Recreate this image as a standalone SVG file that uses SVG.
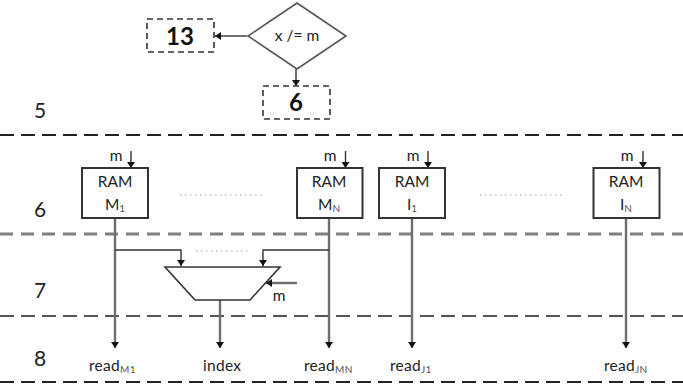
<svg xmlns="http://www.w3.org/2000/svg" width="683" height="387" viewBox="0 0 683 387">
<style>
text{font-family:"Lato","Open Sans","Liberation Sans",sans-serif;fill:#222}
.t{font-size:15.500px;text-anchor:middle}
.s{font-size:15.500px;letter-spacing:.3px}
.num{font-size:24px;font-weight:700;text-anchor:middle;fill:#111}
.lvl{font-size:21px;fill:#222}
.sep{stroke:#222;stroke-width:2;stroke-dasharray:14 7;fill:none}
.sepg{stroke:#7f7f7f;stroke-width:3;stroke-dasharray:13 8;fill:none}
.sep2{stroke:#555;stroke-width:2;stroke-dasharray:14 7;fill:none}
.box{fill:#fff;stroke:#333;stroke-width:2}
.dbox{fill:#fff;stroke:#333;stroke-width:1.6;stroke-dasharray:6 4}
.shape{fill:#fff;stroke:#555;stroke-width:1.6}
.w{stroke:#6e6e6e;stroke-width:2.4;fill:none}
.k{stroke:#333;stroke-width:1.4;fill:none}
.dots{stroke:#999;stroke-width:1;stroke-dasharray:1.5 3.5;fill:none}
.sub{font-size:10px;fill:#555}
</style>
<defs>
<marker id="a" markerUnits="userSpaceOnUse" markerWidth="8" markerHeight="8" refX="6" refY="4" orient="auto"><path d="M0 0L6 4L0 8z" fill="#111"/></marker>
</defs>
<g id="separators">
<line class="sep" x1="0" y1="135" x2="683" y2="135"/>
<line class="sepg" x1="0" y1="234" x2="683" y2="234"/>
<line class="sep2" x1="0" y1="316" x2="683" y2="316"/>
<line class="sep" x1="0" y1="382" x2="683" y2="382"/>
</g>
<g id="levels">
<text class="lvl" x="34" y="118">5</text>
<text class="lvl" x="34" y="217">6</text>
<text class="lvl" x="34" y="298">7</text>
<text class="lvl" x="34" y="366">8</text>
</g>
<g id="connectors">
<path class="k" d="M247 36H215" marker-end="url(#a)"/>
<path class="k" d="M296 69V86" marker-end="url(#a)"/>
<path class="k" d="M131 151V168" marker-end="url(#a)"/>
<path class="k" d="M345.500 151V168" marker-end="url(#a)"/>
<path class="k" d="M428 151V168" marker-end="url(#a)"/>
<path class="k" d="M643 151V168" marker-end="url(#a)"/>
<path class="w" d="M115 218V348" marker-end="url(#a)"/>
<path class="w" d="M329 218V348" marker-end="url(#a)"/>
<path class="w" d="M412 218V348" marker-end="url(#a)"/>
<path class="w" d="M626 218V348" marker-end="url(#a)"/>
<path class="k" d="M115 250H181V266" stroke-width="2" marker-end="url(#a)"/>
<path class="k" d="M329 250H263V266" stroke-width="2" marker-end="url(#a)"/>
<path class="w" d="M220 300V348" marker-end="url(#a)"/>
<path class="w" d="M297 283H266" marker-end="url(#a)"/>
</g>
<g id="dots">
<line class="dots" x1="180" y1="195" x2="262" y2="195"/>
<line class="dots" x1="480" y1="195" x2="564" y2="195"/>
<line class="dots" x1="196" y1="251" x2="248" y2="251"/>
</g>
<g id="box13"><rect class="dbox" x="147" y="19" width="67" height="33"/><text class="num" x="180" y="45">13</text></g>
<g id="decision"><polygon class="shape" points="297,3 346,36 297,69 248,36"/><text class="t" x="297" y="41">x /= m</text></g>
<g id="box6"><rect class="dbox" x="263" y="86" width="67" height="33"/><text class="num" x="296" y="111">6</text></g>
<g id="ramM1"><rect class="box" x="82" y="168" width="66" height="50"/><text class="t" x="115" y="187">RAM</text><text class="t" x="115" y="210">M<tspan class="sub" dy="2">1</tspan></text><text class="t" x="116" y="161">m</text></g>
<g id="ramMN"><rect class="box" x="297" y="168" width="65.500" height="50"/><text class="t" x="329" y="187">RAM</text><text class="t" x="329" y="210">M<tspan class="sub" dy="2">N</tspan></text><text class="t" x="330" y="161">m</text></g>
<g id="ramI1"><rect class="box" x="379" y="168" width="66" height="50"/><text class="t" x="412" y="187">RAM</text><text class="t" x="412" y="210">I<tspan class="sub" dy="2">1</tspan></text><text class="t" x="413" y="161">m</text></g>
<g id="ramIN"><rect class="box" x="593.500" y="168" width="66" height="50"/><text class="t" x="626" y="187">RAM</text><text class="t" x="626" y="210">I<tspan class="sub" dy="2">N</tspan></text><text class="t" x="627" y="161">m</text></g>
<g id="mux"><polygon class="shape" style="stroke:#333" points="165,267 280,267 250,300 195,300"/><text class="t" x="279" y="301">m</text></g>
<g id="outputs">
<text class="s" x="89" y="371">read<tspan class="sub" dy="2">M1</tspan></text>
<text class="s" x="203" y="371">index</text>
<text class="s" x="304" y="371">read<tspan class="sub" dy="2">MN</tspan></text>
<text class="s" x="390" y="371">read<tspan class="sub" dy="2">J1</tspan></text>
<text class="s" x="604" y="371">read<tspan class="sub" dy="2">JN</tspan></text>
</g>
</svg>
